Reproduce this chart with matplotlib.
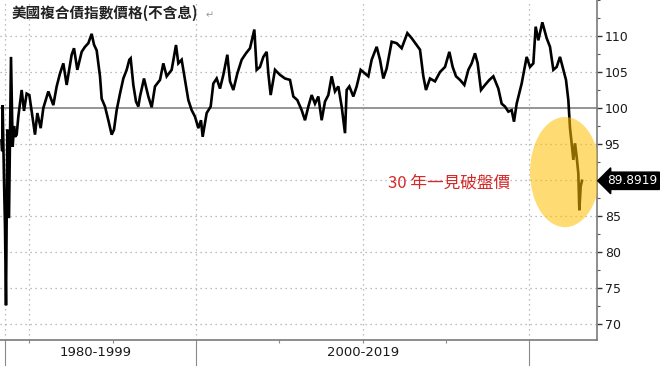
import matplotlib
matplotlib.use("Agg")
import matplotlib.pyplot as plt
from matplotlib.patches import Ellipse
from matplotlib.transforms import blended_transform_factory
from matplotlib.ticker import MultipleLocator, FixedLocator, NullFormatter

# ---- data ----
years = [1988.33, 1988.37, 1988.40, 1988.48, 1988.54, 1988.60, 1988.68, 1988.78, 1988.90, 1989.00,
         1989.08, 1989.14, 1989.24, 1989.34, 1989.54, 1989.68, 1989.84, 1990.00, 1990.24, 1990.34,
         1990.48, 1990.68, 1990.84, 1991.14, 1991.44, 1991.64, 1991.84, 1992.04, 1992.24, 1992.54,
         1992.68, 1992.88, 1993.14, 1993.34, 1993.54, 1993.74, 1993.88, 1994.04, 1994.24, 1994.34,
         1994.54, 1994.74, 1994.94, 1995.08, 1995.24, 1995.44, 1995.64, 1995.84, 1996.00, 1996.08,
         1996.24, 1996.40, 1996.54, 1996.64, 1996.88, 1997.14, 1997.34, 1997.54, 1997.84, 1998.04,
         1998.24, 1998.54, 1998.80, 1998.94, 1999.14, 1999.34, 1999.54, 1999.74, 1999.94, 2000.14,
         2000.30, 2000.40, 2000.64, 2000.88, 2001.04, 2001.24, 2001.44, 2001.64, 2001.88, 2002.04,
         2002.24, 2002.48, 2002.74, 2003.00, 2003.24, 2003.50, 2003.64, 2003.84, 2004.04, 2004.24,
         2004.34, 2004.48, 2004.74, 2005.04, 2005.34, 2005.64, 2005.84, 2006.08, 2006.34, 2006.54,
         2006.74, 2006.94, 2007.14, 2007.34, 2007.54, 2007.74, 2007.94, 2008.14, 2008.34, 2008.54,
         2008.74, 2008.94, 2009.04, 2009.20, 2009.44, 2009.64, 2009.88, 2010.14, 2010.34, 2010.54,
         2010.84, 2011.04, 2011.24, 2011.44, 2011.74, 2012.04, 2012.34, 2012.68, 2012.94, 2013.24,
         2013.44, 2013.64, 2013.80, 2014.04, 2014.34, 2014.64, 2014.94, 2015.20, 2015.40, 2015.60,
         2015.84, 2016.10, 2016.34, 2016.54, 2016.74, 2016.90, 2017.10, 2017.34, 2017.60, 2017.84,
         2018.14, 2018.34, 2018.54, 2018.74, 2018.94, 2019.08, 2019.24, 2019.54, 2019.84, 2020.04,
         2020.24, 2020.38, 2020.54, 2020.78, 2021.04, 2021.24, 2021.44, 2021.64, 2021.84, 2022.04,
         2022.20, 2022.34, 2022.44, 2022.54, 2022.64, 2022.74, 2022.84, 2022.94, 2023.00, 2023.08,
         2023.16]
values = [95.5, 94.0, 100.4, 90.0, 83.5, 72.6, 97.0, 84.7, 107.1, 94.6,
          97.5, 96.0, 96.3, 98.8, 102.5, 99.6, 102.0, 101.8, 97.9, 96.3,
          99.3, 97.2, 100.0, 102.3, 100.4, 103.0, 104.8, 106.2, 103.2, 107.4,
          108.3, 105.3, 107.8, 108.5, 109.0, 110.3, 108.8, 108.0, 104.4, 101.3,
          100.2, 98.3, 96.3, 97.0, 99.7, 102.0, 104.1, 105.3, 106.7, 106.9,
          103.2, 100.9, 100.2, 101.6, 104.1, 101.6, 100.1, 103.0, 103.9, 106.2,
          104.4, 105.3, 108.75, 106.2, 106.7, 103.9, 101.1, 99.7, 98.8, 97.2,
          98.3, 96.0, 99.3, 100.2, 103.4, 104.1, 102.7, 104.6, 107.4, 103.7,
          102.5, 104.8, 106.7, 107.6, 108.3, 110.9, 105.3, 105.7, 107.1, 107.8,
          104.8, 101.8, 105.3, 104.6, 104.1, 103.9, 101.6, 101.1, 99.7, 98.3,
          100.2, 101.8, 100.6, 101.6, 98.3, 100.9, 101.8, 104.4, 102.3, 103.0,
          100.2, 96.5, 102.5, 103.0, 101.6, 103.0, 105.3, 104.8, 104.4, 106.7,
          108.5, 106.7, 104.1, 105.5, 109.2, 109.0, 108.3, 110.4, 109.7, 108.75,
          108.1, 104.4, 102.5, 104.1, 103.7, 105.0, 105.7, 107.8, 105.7, 104.4,
          103.9, 103.2, 105.3, 106.2, 107.6, 106.2, 102.5, 103.2, 103.9, 104.4,
          102.7, 100.6, 100.2, 99.5, 99.7, 98.1, 100.6, 103.4, 107.1, 105.7,
          106.2, 111.3, 109.4, 111.9, 109.7, 108.5, 105.3, 105.7, 107.1, 105.3,
          103.9, 101.1, 97.2, 95.1, 92.8, 95.1, 93.2, 90.9, 85.8, 89.1,
          89.8919]

last_value_label = "89.8919"
title = "美國複合債指數價格(不含息)"
annotation = "30 年一見破盤價"
period_labels = ["1980-1999", "2000-2019"]
period_bounds = [1988.54, 2000.0, 2020.0]
y_ticks = [70, 75, 80, 85, 90, 95, 100, 105, 110]
v_grid = [1988.54, 1990, 2000, 2010, 2020]
minor_x = [1990, 1995, 2005, 2010, 2015]

# ---- figure ----
W, H = 660, 366
fig = plt.figure(figsize=(W / 100, H / 100), dpi=100)
ax = fig.add_axes([0, 26 / H, 597 / W, 340 / H])

ax.set_xlim(1988.24, 2024.06)
ax.set_ylim(67.78, 115.0)

# grid lines
for yv in y_ticks:
    if yv == 100:
        ax.axhline(yv, color="#8c8c8c", lw=1.3, zorder=1)
    else:
        ax.axhline(yv, color="#a8a8a8", lw=0.9, ls=(0, (1, 3)), zorder=1)
for xv in v_grid:
    ax.axvline(xv, color="#a8a8a8", lw=0.9, ls=(0, (1, 3)), zorder=1)

# the series
ax.plot(years, values, color="black", lw=1.9, zorder=3, solid_joinstyle="miter")

# highlight ellipse
ell = Ellipse((2022.14, 91.1), width=4.2, height=15.3, facecolor="#ffc000",
              edgecolor="none", alpha=0.55, zorder=4)
ax.add_patch(ell)

# spines
for s in ["left", "top"]:
    ax.spines[s].set_visible(False)
ax.spines["right"].set_color("#7a7a7a")
ax.spines["bottom"].set_color("#7a7a7a")
ax.spines["right"].set_linewidth(1.2)
ax.spines["bottom"].set_linewidth(1.2)

# y axis on the right
ax.yaxis.tick_right()
ax.yaxis.set_major_locator(FixedLocator(y_ticks))
ax.set_yticklabels([str(v) if v != 90 else "" for v in y_ticks])
ax.yaxis.set_minor_locator(MultipleLocator(2.5))
ax.tick_params(axis="y", which="major", length=3.5, width=1, color="#333333",
               labelsize=9, labelcolor="#1a1a1a", pad=2)
ax.tick_params(axis="y", which="minor", length=2, width=0.8, color="#555555")

# x axis: separators and small ticks
ax.xaxis.set_major_locator(FixedLocator(period_bounds))
ax.xaxis.set_major_formatter(NullFormatter())
ax.xaxis.set_minor_locator(FixedLocator(minor_x))
ax.tick_params(axis="x", which="major", length=19, width=0.8, color="#8a8a8a")
ax.tick_params(axis="x", which="minor", length=2.5, width=0.8, color="#8a8a8a")

trans = blended_transform_factory(ax.transData, fig.transFigure)
ax.text((period_bounds[0] + period_bounds[1]) / 2 - 0.3, 13 / H, period_labels[0],
        transform=trans, ha="center", va="center", fontsize=9.5, color="#1a1a1a")
ax.text(2010.0, 13 / H, period_labels[1],
        transform=trans, ha="center", va="center", fontsize=9.5, color="#1a1a1a")

# last value tag
tag_trans = blended_transform_factory(ax.transAxes, ax.transData)
ax.text(1 + 10 / 597, values[-1], last_value_label, transform=tag_trans,
        ha="left", va="center", fontsize=8.7, color="white", zorder=10, clip_on=False,
        bbox=dict(boxstyle="larrow,pad=0.18", fc="black", ec="black"))

# title
fig.text(12 / W, 1 - 13 / H, title, fontsize=10.5, fontweight="bold", color="#222222",
         family=["Noto Sans CJK TC", "DejaVu Sans"], ha="left", va="center")
fig.text(206 / W, 1 - 15 / H, "\u21b5", fontsize=7, color="#999999",
         family=["DejaVu Sans"], ha="left", va="center")

# red annotation
fig.text(388 / W, 1 - 183 / H, annotation, fontsize=12, color="#d42a2a",
         family=["Noto Sans CJK TC", "DejaVu Sans"], ha="left", va="center")

fig.savefig("out.png", dpi=100)
